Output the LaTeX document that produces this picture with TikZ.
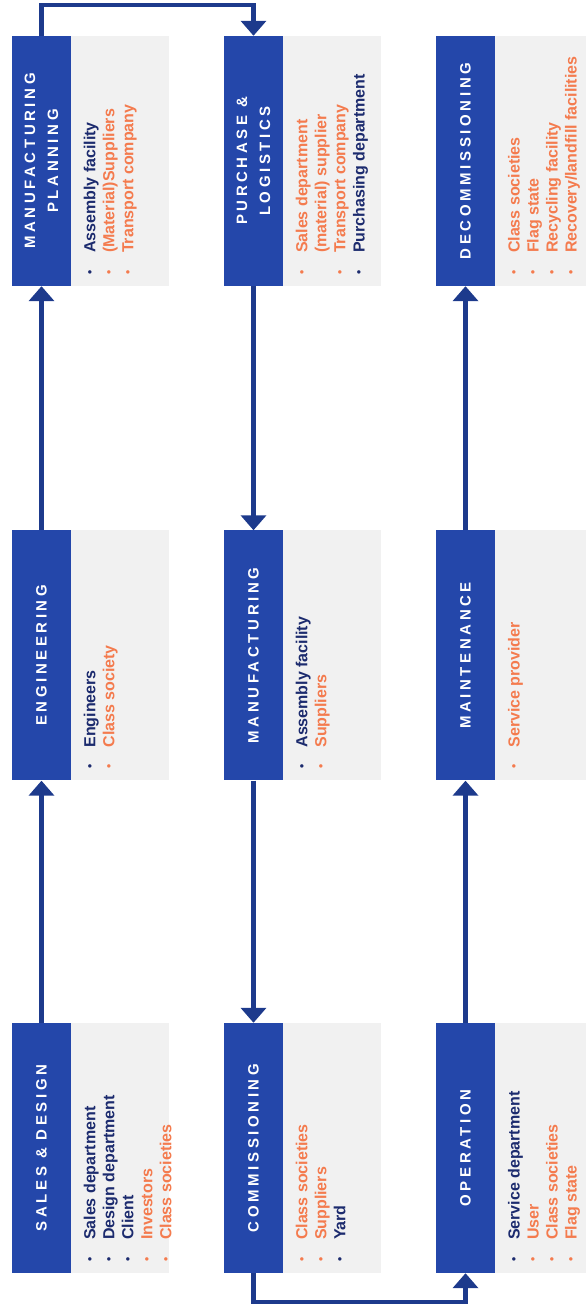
\documentclass[tikz,border=0pt]{standalone}
\usepackage{fontspec}
\setmainfont{Liberation Sans}
\newfontfamily\titlefont[LetterSpace=24]{Liberation Sans Bold}
\usetikzlibrary{arrows.meta,positioning}

\definecolor{stageblue}{HTML}{2447AA}
\definecolor{flowblue}{HTML}{1D3A8C}
\definecolor{navytext}{HTML}{1C2B6E}
\definecolor{orangetext}{HTML}{F47B4E}
\definecolor{panelgrey}{HTML}{F1F1F1}

% list entries: navy, orange, and an orange line without bullet
\newcommand{\dotmark}{\raisebox{1.6pt}{\fontsize{12}{12}\selectfont\textbullet}}
\newcommand{\nitem}[1]{\textcolor{navytext}{\makebox[22pt][l]{\hspace{0.6pt}\dotmark}#1}}
\newcommand{\oitem}[1]{\textcolor{orangetext}{\makebox[22pt][l]{\hspace{0.6pt}\dotmark}#1}}
\newcommand{\ocont}[1]{\textcolor{orangetext}{\hspace*{22pt}#1}}

\tikzset{
  stage/.style={fill=stageblue, minimum width=59pt, minimum height=250pt, inner sep=0},
  panel/.style={fill=panelgrey, minimum width=98pt, minimum height=250pt, inner sep=0, anchor=west},
  stagename/.style={text=white, rotate=90, align=center, font=\titlefont\fontsize{15}{23}\selectfont},
  members/.style={rotate=90, anchor=north west, align=left, inner sep=0, font=\bfseries\fontsize{16}{19}\selectfont},
  flow/.style={draw=flowblue, line width=4.5pt, -{Triangle[width=25pt,length=15pt]}}
}

\begin{document}
\begin{tikzpicture}[x=1pt,y=1pt]
\useasboundingbox (0,0) rectangle (586,1305);

% blue stage boxes
\node[stage] (sd)  at (41.5,157)   {};
\node[stage] (eng) at (41.5,649.5) {};
\node[stage] (mp)  at (41.5,1144)  {};
\node[stage] (pl)  at (253.5,1144)  {};
\node[stage] (mf)  at (253.5,649.5) {};
\node[stage] (com) at (253.5,157)   {};
\node[stage] (op)  at (465.5,157)   {};
\node[stage] (mt)  at (465.5,649.5) {};
\node[stage] (dc)  at (465.5,1144)  {};

% grey panels next to them
\node[panel] (sdp)  at (sd.east)  {};
\node[panel] (engp) at (eng.east) {};
\node[panel] (mpp)  at (mp.east)  {};
\node[panel] (plp)  at (pl.east)  {};
\node[panel] (mfp)  at (mf.east)  {};
\node[panel] (comp) at (com.east) {};
\node[panel,minimum width=91pt] (opp) at (op.east) {};
\node[panel,minimum width=91pt] (mtp) at (mt.east) {};
\node[panel,minimum width=91pt] (dcp) at (dc.east) {};

\node[stagename] at (sd)  {SALES \& DESIGN};
\node[stagename] at (eng) {ENGINEERING};
\node[stagename] at (mp)  {MANUFACTURING\\PLANNING};
\node[stagename] at (pl)  {PURCHASE \&\\LOGISTICS};
\node[stagename] at (mf)  {MANUFACTURING};
\node[stagename] at (com) {COMMISSIONING};
\node[stagename] at (op)  {OPERATION};
\node[stagename] at (mt)  {MAINTENANCE};
\node[stagename] at (dc)  {DECOMMISSIONING};

\node[members] at ([shift={(12.5,11)}]sdp.south west)
  {\nitem{Sales department}\\\nitem{Design department}\\\nitem{Client}\\\oitem{Investors}\\\oitem{Class societies}};
\node[members] at ([shift={(12.5,11)}]engp.south west)
  {\nitem{Engineers}\\\oitem{Class society}};
\node[members] at ([shift={(12.5,11)}]mpp.south west)
  {\nitem{Assembly facility}\\\oitem{(Material)Suppliers}\\\oitem{Transport company}};
\node[members] at ([shift={(12.5,11)}]plp.south west)
  {\oitem{Sales department}\\\ocont{(material) supplier}\\\oitem{Transport company}\\\nitem{Purchasing department}};
\node[members] at ([shift={(12.5,11)}]mfp.south west)
  {\nitem{Assembly facility}\\\oitem{Suppliers}};
\node[members] at ([shift={(12.5,11)}]comp.south west)
  {\oitem{Class societies}\\\oitem{Suppliers}\\\nitem{Yard}};
\node[members] at ([shift={(12.5,11)}]opp.south west)
  {\nitem{Service department}\\\oitem{User}\\\oitem{Class societies}\\\oitem{Flag state}};
\node[members] at ([shift={(12.5,11)}]mtp.south west)
  {\oitem{Service provider}};
\node[members] at ([shift={(12.5,11)}]dcp.south west)
  {\oitem{Class societies}\\\oitem{Flag state}\\\oitem{Recycling facility}\\\oitem{Recovery/landfill facilities}};

% process flow
\draw[flow] (sd.north) -- (eng.south);
\draw[flow] (eng.north) -- (mp.south);
\draw[flow] (mp.north) -- ++(0,31) -| (pl.north);
\draw[flow] (pl.south) -- (mf.north);
\draw[flow] (mf.south) -- (com.north);
\draw[flow] (com.south) -- ++(0,-29) -| (op.south);
\draw[flow] (op.north) -- (mt.south);
\draw[flow] (mt.north) -- (dc.south);
\end{tikzpicture}
\end{document}
